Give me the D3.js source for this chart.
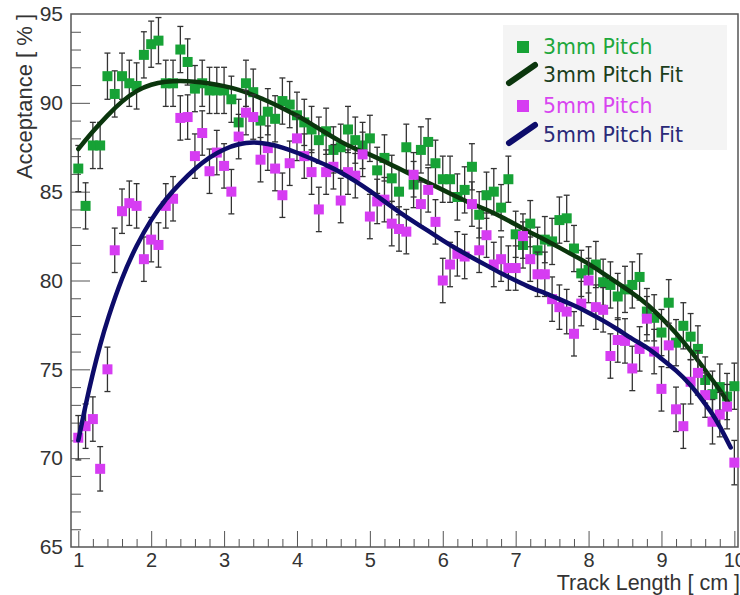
<!DOCTYPE html>
<html>
<head>
<meta charset="utf-8">
<script src="https://cdn.jsdelivr.net/npm/d3@7"></script>
<style>
body { margin: 0; background: #fff; }
svg { display: block; }
.axis path, .axis line { stroke: #555; }
.axis text { font-family: "Liberation Sans", Arial, sans-serif; fill: #333; }
</style>
</head>
<body>
<div class="chart"></div>
<script>
// track length bins [cm]
var trackLength = [1.0,1.1,1.2,1.3,1.4,1.5,1.6,1.7,1.8,1.9,
  2.0,2.1,2.2,2.3,2.4,2.5,2.6,2.7,2.8,2.9,
  3.0,3.1,3.2,3.3,3.4,3.5,3.6,3.7,3.8,3.9,
  4.0,4.1,4.2,4.3,4.4,4.5,4.6,4.7,4.8,4.9,
  5.0,5.1,5.2,5.3,5.4,5.5,5.6,5.7,5.8,5.9,
  6.0,6.1,6.2,6.3,6.4,6.5,6.6,6.7,6.8,6.9,
  7.0,7.1,7.2,7.3,7.4,7.5,7.6,7.7,7.8,7.9,
  8.0,8.1,8.2,8.3,8.4,8.5,8.6,8.7,8.8,8.9,
  9.0,9.1,9.2,9.3,9.4,9.5,9.6,9.7,9.8,9.9,10.0];

var pitch3 = [86.3,84.2,87.6,87.6,91.5,90.5,91.5,91.1,90.95,92.7,
  93.3,93.5,91.1,91.1,93.0,92.3,90.8,91.1,90.7,90.7,
  90.7,90.2,88.9,91.1,90.6,89.0,89.5,89.1,90.1,89.9,
  89.3,88.9,88.5,87.9,88.4,87.35,87.5,88.5,87.9,87.6,
  88.0,86.2,86.9,85.75,85.0,87.5,85.4,87.35,87.8,86.6,
  85.7,85.7,84.7,85.1,86.4,83.7,84.8,85.0,84.1,85.7,
  82.6,82.0,83.2,81.7,82.3,82.2,83.4,83.5,81.8,80.4,
  80.6,80.9,79.9,79.75,79.1,79.5,79.75,80.2,78.25,77.9,
  77.07,78.75,76.5,77.45,76.84,76.15,74.4,73.6,74.0,73.47,74.05];

var pitch5 = [71.15,71.8,72.2,69.4,75.0,81.7,83.9,84.35,84.2,81.2,
  82.3,82.0,84.2,84.6,89.15,89.2,87.0,88.3,86.15,87.2,
  86.45,85.0,88.1,89.45,89.2,86.8,87.45,86.3,84.8,86.6,
  88.0,87.0,86.1,84.0,86.1,86.4,84.5,86.1,85.9,87.1,
  83.6,84.45,84.55,83.2,82.9,82.75,85.95,84.3,85.1,83.3,
  80.0,80.9,81.5,81.35,84.3,81.7,82.55,80.9,81.2,80.7,
  80.7,82.5,81.2,80.35,80.35,78.95,78.5,78.25,77.0,78.7,
  80.0,78.5,78.35,75.75,76.65,76.6,75.05,76.15,77.85,76.0,
  73.9,76.35,72.75,71.8,74.3,74.8,73.55,72.05,72.45,72.9,69.75];

var err3 = 1.3;
var err5 = 1.25;

// fit curves
var fit3X = [1.0,1.2,1.4,1.6,1.8,2.0,2.2,2.4,2.6,2.8,3.0,3.2,3.4,3.6,3.8,4.0,4.2,4.4,4.6,4.8,
  5.0,5.2,5.4,5.6,5.8,6.0,6.2,6.4,6.6,6.8,7.0,7.2,7.4,7.6,7.8,8.0,8.2,8.4,8.6,8.8,
  9.0,9.2,9.4,9.6,9.8,9.92];
var fit3Y = [87.4,88.4,89.3,90.1,90.7,91.05,91.2,91.25,91.2,91.1,90.95,90.75,90.45,90.1,89.7,89.3,88.8,88.3,87.8,87.4,
  87.1,86.7,86.3,85.9,85.5,85.1,84.7,84.3,84.0,83.6,83.15,82.7,82.3,81.85,81.4,80.95,80.4,79.85,79.3,78.7,
  77.9,77.05,76.05,74.95,73.85,73.1];

var fit5X = [1.0,1.1,1.2,1.3,1.4,1.6,1.8,2.0,2.2,2.4,2.6,2.8,3.0,3.2,3.4,3.6,3.8,4.0,4.2,4.4,4.6,4.8,
  5.0,5.2,5.4,5.6,5.8,6.0,6.2,6.4,6.6,6.8,7.0,7.2,7.4,7.6,7.8,8.0,8.2,8.4,8.6,8.8,
  9.0,9.2,9.4,9.6,9.7,9.8,9.95];
var fit5Y = [71.0,73.0,74.8,76.4,77.8,80.2,82.0,83.45,84.6,85.5,86.3,86.95,87.4,87.7,87.8,87.7,87.5,87.2,86.85,86.5,86.1,85.6,
  85.05,84.45,83.85,83.3,82.8,82.25,81.75,81.3,80.85,80.4,80.0,79.6,79.3,78.95,78.6,78.2,77.75,77.25,76.7,76.25,
  75.6,74.95,74.15,73.05,72.5,71.8,70.6];

var xMajor = [1,2,3,4,5,6,7,8,9,10];
var yMajor = [65,70,75,80,85,90,95];

var legendNames = ["3mm Pitch", "3mm Pitch Fit", "5mm Pitch", "5mm Pitch Fit"];

var width = 740;
var height = 595;
var padL = 71, padR = 738, padT = 14, padB = 547;

var col3 = "#17a236", col5 = "#d63cf2", fitCol3 = "#0b360d", fitCol5 = "#0d0c6a";

var svg = d3.select(".chart").append("svg").attr("width", width).attr("height", height);

var x = d3.scaleLinear().domain([0.9, 10.05]).range([padL, padR]);
var y = d3.scaleLinear().domain([65, 95]).range([padB, padT]);

// minor ticks
var xMinor = [];
for (var i = 1; i < 50; i++) { var v = 1 + i * 0.2; if (Math.abs(v - Math.round(v)) > 0.01 && v < 10.05) xMinor.push(v); }
var yMinor = [];
for (var k = 66; k < 95; k++) { if (k % 5 != 0) yMinor.push(k); }

svg.append("g").attr("class", "axis")
  .attr("transform", "translate(0," + padB + ")")
  .call(d3.axisBottom(x).tickValues(xMinor).tickSize(-8).tickFormat(""))
  .select(".domain").remove();
svg.append("g").attr("class", "axis")
  .attr("transform", "translate(" + padL + ",0)")
  .call(d3.axisLeft(y).tickValues(yMinor).tickSize(-10).tickFormat(""))
  .select(".domain").remove();

var xa = svg.append("g").attr("class", "axis")
  .attr("transform", "translate(0," + padB + ")")
  .call(d3.axisBottom(x).tickValues(xMajor).tickSize(-16).tickPadding(6).tickSizeOuter(0));
xa.selectAll("text").style("font-size", "20px");
xa.select(".domain").remove();

var ya = svg.append("g").attr("class", "axis")
  .attr("transform", "translate(" + padL + ",0)")
  .call(d3.axisLeft(y).tickValues(yMajor).tickSize(-19).tickPadding(8).tickSizeOuter(0));
ya.selectAll("text").style("font-size", "21px");
ya.select(".domain").remove();
ya.selectAll(".tick line").filter(function(d) { return d == 65 || d == 95; }).remove();

svg.append("rect").attr("x", padL).attr("y", padT)
  .attr("width", padR - padL).attr("height", padB - padT)
  .attr("fill", "none").attr("stroke", "#555").attr("stroke-width", 1.5);

// axis titles
svg.append("text").attr("x", 740).attr("y", 590).attr("text-anchor", "end")
  .style("font-family", "Liberation Sans, Arial, sans-serif").style("font-size", "21.5px").attr("fill", "#333")
  .text("Track Length [ cm ]");
svg.append("text").attr("transform", "translate(32,14) rotate(-90)").attr("text-anchor", "end")
  .style("font-family", "Liberation Sans, Arial, sans-serif").style("font-size", "22px").attr("fill", "#333")
  .text("Acceptance [ % ]");

// legend
svg.append("rect").attr("x", 503).attr("y", 25).attr("width", 224).attr("height", 125).attr("fill", "#f4f4f4");

function drawPoints(vals, err, color) {
  var g = svg.append("g");
  var pts = trackLength.map(function(t, i) { return { t: t, v: vals[i] }; });
  g.selectAll(".eb").data(pts).enter().append("line")
    .attr("x1", function(d) { return x(d.t); }).attr("x2", function(d) { return x(d.t); })
    .attr("y1", function(d) { return y(d.v - err); }).attr("y2", function(d) { return y(d.v + err); })
    .attr("stroke", "#333").attr("stroke-width", 1.3);
  [-1, 1].forEach(function(s) {
    g.selectAll(".cap" + s).data(pts).enter().append("line")
      .attr("x1", function(d) { return x(d.t) - 3; }).attr("x2", function(d) { return x(d.t) + 3; })
      .attr("y1", function(d) { return y(d.v + s * err); }).attr("y2", function(d) { return y(d.v + s * err); })
      .attr("stroke", "#333").attr("stroke-width", 1.3);
  });
  g.selectAll("rect").data(pts).enter().append("rect")
    .attr("x", function(d) { return x(d.t) - 5; }).attr("y", function(d) { return y(d.v) - 5; })
    .attr("width", 10).attr("height", 10).attr("fill", color);
}

function drawFit(xs, ys, color) {
  var line = d3.line().curve(d3.curveBasis)
    .x(function(d) { return x(d[0]); }).y(function(d) { return y(d[1]); });
  svg.append("path").datum(xs.map(function(t, i) { return [t, ys[i]]; }))
    .attr("d", line).attr("fill", "none").attr("stroke", color)
    .attr("stroke-width", 4.5).attr("stroke-linecap", "round");
}

drawPoints(pitch3, err3, col3);
drawFit(fit3X, fit3Y, fitCol3);
drawPoints(pitch5, err5, col5);
drawFit(fit5X, fit5Y, fitCol5);

var legendY = [54, 82, 113, 142];
var legendCol = ["#1ea83c", "#1c3f1c", "#d845f0", "#2a2a78"];
legendNames.forEach(function(name, i) {
  svg.append("text").attr("x", 543).attr("y", legendY[i])
    .style("font-family", "DejaVu Sans, sans-serif").style("font-size", "20.5px")
    .attr("fill", legendCol[i]).text(name);
});
[0, 2].forEach(function(i) {
  svg.append("rect").attr("x", 517).attr("y", legendY[i] - 13).attr("width", 12).attr("height", 12)
    .attr("fill", i == 0 ? col3 : col5);
});
[1, 3].forEach(function(i) {
  svg.append("line").attr("x1", 509).attr("y1", legendY[i] + 1).attr("x2", 535).attr("y2", legendY[i] - 17)
    .attr("stroke", i == 1 ? fitCol3 : fitCol5).attr("stroke-width", 6).attr("stroke-linecap", "round");
});
</script>
</body>
</html>
